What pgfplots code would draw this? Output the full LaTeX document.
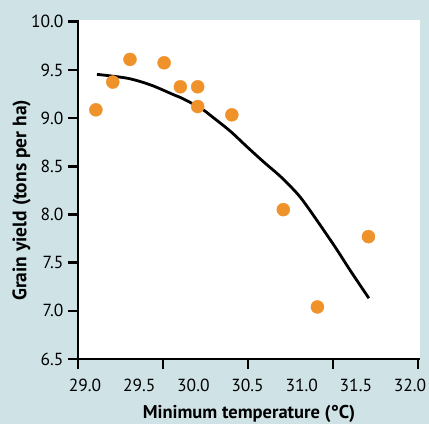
\documentclass[border=0pt]{standalone}
\usepackage{fontspec}
\setmainfont{PT Sans}
\usepackage{pgfplots}
\pgfplotsset{compat=1.18}
\definecolor{bgblue}{RGB}{207,227,231}
\definecolor{dotorange}{RGB}{240,146,42}

\begin{document}
\begin{tikzpicture}[x=1pt,y=1pt]
\fill[bgblue] (0,0) rectangle (429,424);
\useasboundingbox (0,0) rectangle (429,424);
\begin{axis}[
    at={(78pt,65pt)}, anchor=south west,
    scale only axis, width=342pt, height=339pt,
    xmin=28.935, xmax=32.092, ymin=6.5, ymax=10.018,
    axis x line*=bottom, axis y line*=left,
    axis line style={line width=2.5pt, black},
    axis background/.style={fill=white},
    tick align=outside, major tick length=10pt,
    tick style={line width=2.5pt, black},
    xtick={28.935,29.72,30.505,31.29,32.074}, xticklabels={},
    extra x ticks={29,29.5,30,30.5,31,31.5,32},
    extra x tick labels={29.0,29.5,30.0,30.5,31.0,31.5,32.0},
    extra x tick style={major tick length=0pt, tick style={draw=none},
        tick label style={yshift=-17pt}},
    ytick={6.5,7,7.5,8,8.5,9,9.5,10},
    yticklabels={6.5,7.0,7.5,8.0,8.5,9.0,9.5,10.0},
    yticklabel style={xshift=-1pt},
    tick label style={font=\fontsize{17.5}{19}\selectfont},
    xlabel={Minimum temperature (°C)},
    ylabel={Grain yield (tons per ha)},
    xlabel style={font=\bfseries\fontsize{18.5}{20}\selectfont,
        at={(axis description cs:0.5,-0.163)}, anchor=center},
    ylabel style={font=\bfseries\fontsize{19.5}{21}\selectfont,
        at={(axis description cs:-0.165,0.468)}, anchor=center},
    clip=false,
]
\addplot[dotorange, only marks, mark=*, mark size=6.5pt,
    mark options={draw=dotorange, fill=dotorange}] coordinates {
    (29.10,9.086) (29.256,9.374) (29.415,9.609) (29.73,9.574)
    (29.88,9.325) (30.04,9.325) (30.04,9.12) (30.355,9.034)
    (30.83,8.05) (31.145,7.04) (31.616,7.77)
};
\addplot[black, line width=2.8pt, smooth] coordinates {
    (29.11,9.454) (29.394,9.413) (29.608,9.343) (29.823,9.240)
    (29.885,9.212) (30.069,9.102) (30.192,8.998) (30.346,8.859)
    (30.50,8.697) (30.653,8.541) (30.806,8.392) (30.960,8.215)
    (31.067,8.057) (31.298,7.680) (31.452,7.412) (31.62,7.131)
};
\end{axis}
\end{tikzpicture}
\end{document}
